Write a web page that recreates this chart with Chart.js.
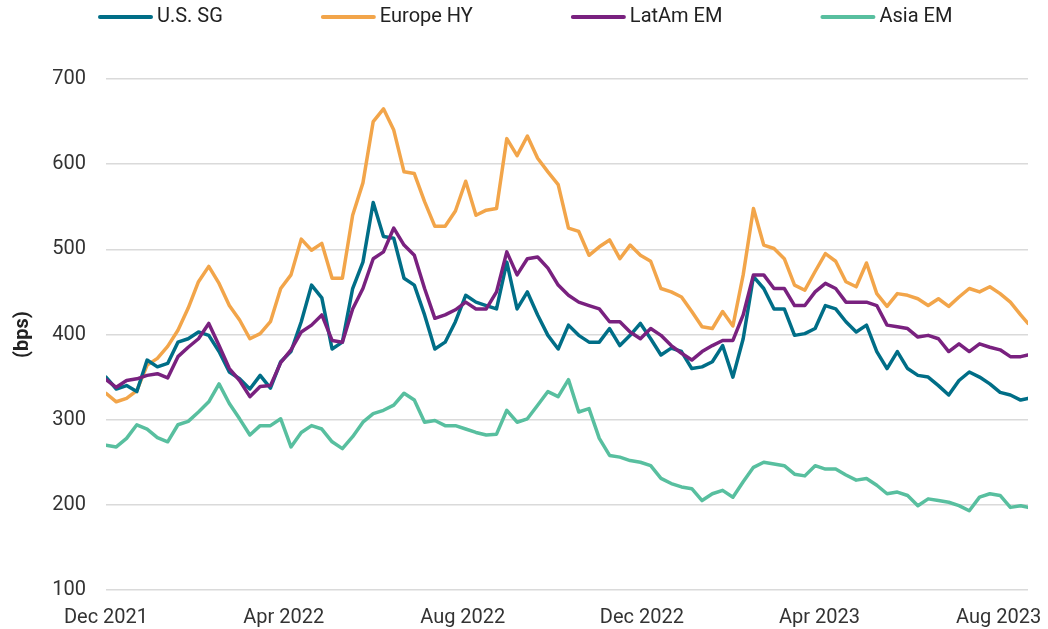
<!DOCTYPE html>
<html>
<head>
<meta charset="utf-8">
<title>Spreads</title>
<script src="https://cdn.jsdelivr.net/npm/chart.js@4.4.0/dist/chart.umd.min.js"></script>
<style>
  body { margin: 0; background: #fff; }
  #wrap { width: 1048px; height: 629px; }
</style>
</head>
<body>
<div id="wrap"><canvas id="myChart" width="1048" height="629"></canvas></div>
<script>
// weekly observations (plus last day shown)
const dates = [
  "2021-12-01", "2021-12-08", "2021-12-15", "2021-12-22", "2021-12-29",
  "2022-01-05", "2022-01-12", "2022-01-19", "2022-01-26",
  "2022-02-02", "2022-02-09", "2022-02-16", "2022-02-23",
  "2022-03-02", "2022-03-09", "2022-03-16", "2022-03-23", "2022-03-30",
  "2022-04-06", "2022-04-13", "2022-04-20", "2022-04-27",
  "2022-05-04", "2022-05-11", "2022-05-18", "2022-05-25",
  "2022-06-01", "2022-06-08", "2022-06-15", "2022-06-22", "2022-06-29",
  "2022-07-06", "2022-07-13", "2022-07-20", "2022-07-27",
  "2022-08-03", "2022-08-10", "2022-08-17", "2022-08-24", "2022-08-31",
  "2022-09-07", "2022-09-14", "2022-09-21", "2022-09-28",
  "2022-10-05", "2022-10-12", "2022-10-19", "2022-10-26",
  "2022-11-02", "2022-11-09", "2022-11-16", "2022-11-23", "2022-11-30",
  "2022-12-07", "2022-12-14", "2022-12-21", "2022-12-28",
  "2023-01-04", "2023-01-11", "2023-01-18", "2023-01-25",
  "2023-02-01", "2023-02-08", "2023-02-15", "2023-02-22",
  "2023-03-01", "2023-03-08", "2023-03-15", "2023-03-22", "2023-03-29",
  "2023-04-05", "2023-04-12", "2023-04-19", "2023-04-26",
  "2023-05-03", "2023-05-10", "2023-05-17", "2023-05-24", "2023-05-31",
  "2023-06-07", "2023-06-14", "2023-06-21", "2023-06-28",
  "2023-07-05", "2023-07-12", "2023-07-19", "2023-07-26",
  "2023-08-02", "2023-08-09", "2023-08-16", "2023-08-21"
];

const usSG = [
  350, 336, 340, 333, 370, 362, 366, 391, 395, 403, 399, 380, 356, 348, 336, 352, 337, 368, 380, 415, 458, 443, 383,
  391, 454, 485, 555, 515, 513, 466, 458, 423, 383, 391, 415, 446, 438, 434, 430, 485, 430, 450, 423, 399, 383, 411,
  399, 391, 391, 407, 387, 399, 413, 395, 376, 384, 380, 360, 362, 368, 387, 350, 395, 468, 454, 430, 430, 399, 401,
  407, 434, 430, 415, 403, 411, 380, 360, 380, 360, 352, 350, 340, 329, 346, 356, 350, 342, 332, 329, 323, 325
];
const europeHY = [
  331, 321, 325, 334, 364, 372, 386, 405, 431, 462, 480, 460, 434, 417, 395, 401, 415, 454, 470, 512, 499, 507, 466,
  466, 540, 578, 650, 665, 640, 591, 589, 556, 527, 527, 545, 580, 540, 546, 548, 630, 610, 633, 607, 591, 576, 525,
  521, 493, 503, 511, 489, 505, 493, 486, 454, 450, 444, 427, 409, 407, 427, 410, 470, 548, 505, 501, 489, 458, 452,
  474, 495, 486, 462, 456, 484, 448, 433, 448, 446, 442, 434, 442, 433, 444, 454, 450, 456, 448, 438, 423, 413
];
const latamEM = [
  347, 338, 346, 348, 352, 354, 349, 374, 385, 395, 413, 387, 360, 346, 327, 339, 340, 367, 382, 403, 411, 423, 393,
  391, 430, 454, 489, 497, 525, 505, 493, 454, 419, 423, 429, 438, 430, 430, 450, 497, 470, 489, 491, 478, 458, 446,
  438, 434, 430, 415, 415, 403, 395, 407, 399, 387, 378, 370, 380, 387, 393, 393, 423, 470, 470, 454, 454, 434, 434,
  450, 460, 454, 438, 438, 438, 434, 411, 409, 407, 397, 399, 395, 380, 389, 380, 389, 385, 382, 374, 374, 376
];
const asiaEM = [
  270, 268, 278, 294, 289, 279, 274, 294, 298, 309, 321, 342, 319, 301, 282, 293, 293, 301, 268, 285, 293, 289, 274,
  266, 280, 297, 307, 311, 317, 331, 323, 297, 299, 293, 293, 289, 285, 282, 283, 311, 297, 301, 317, 333, 327, 347,
  309, 313, 278, 258, 256, 252, 250, 246, 231, 225, 221, 219, 205, 213, 217, 209, 227, 244, 250, 248, 246, 236, 234,
  246, 242, 242, 235, 229, 231, 223, 213, 215, 211, 199, 207, 205, 203, 199, 193, 209, 213, 211, 197, 199, 197
];

const tickDates = ["2021-12-01", "2022-04-01", "2022-08-01", "2022-12-01", "2023-04-01", "2023-08-01"];
const tickLabels = ["Dec 2021", "Apr 2022", "Aug 2022", "Dec 2022", "Apr 2023", "Aug 2023"];
const yTicks = [100, 200, 300, 400, 500, 600, 700];

const DAY = 86400000;
const t0 = Date.parse(dates[0]);
const toDay = (d) => Math.round((Date.parse(d) - t0) / DAY);
const xs = dates.map(toDay);
const tickDays = tickDates.map(toDay);

function pts(values) {
  return values.map((v, i) => ({ x: xs[i], y: v }));
}

// legend drawn above the plot: short thick line + label
const topLegend = {
  id: "topLegend",
  afterDraw(chart) {
    const ctx = chart.ctx;
    ctx.save();
    ctx.font = "20px Roboto";
    ctx.textBaseline = "middle";
    ctx.textAlign = "left";
    let x = 98;
    const y = 17;
    chart.data.datasets.forEach((ds) => {
      ctx.strokeStyle = ds.borderColor;
      ctx.lineWidth = 4;
      ctx.lineCap = "round";
      ctx.beginPath();
      ctx.moveTo(x + 2, y);
      ctx.lineTo(x + 53, y);
      ctx.stroke();
      ctx.fillStyle = "#222";
      ctx.fillText(ds.label, x + 59, y);
      x += 59 + ctx.measureText(ds.label).width + 98;
    });
    ctx.restore();
  },
};

const lineStyle = {
  borderWidth: 3.5,
  pointRadius: 0,
  pointHoverRadius: 0,
  tension: 0,
  fill: false,
  borderJoinStyle: "round",
  borderCapStyle: "round",
};

new Chart(document.getElementById("myChart"), {
  type: "line",
  data: {
    datasets: [
      { label: "U.S. SG", data: pts(usSG), borderColor: "#006e87", backgroundColor: "#006e87", order: 1, ...lineStyle },
      { label: "Europe HY", data: pts(europeHY), borderColor: "#f2a54a", backgroundColor: "#f2a54a", order: 2, ...lineStyle },
      { label: "LatAm EM", data: pts(latamEM), borderColor: "#79217f", backgroundColor: "#79217f", order: 0, ...lineStyle },
      { label: "Asia EM", data: pts(asiaEM), borderColor: "#58bf9f", backgroundColor: "#58bf9f", order: 3, ...lineStyle },
    ],
  },
  options: {
    responsive: false,
    animation: false,
    layout: {
      padding: { top: 79, right: 20, bottom: 0, left: 0 },
    },
    plugins: {
      legend: { display: false },
      tooltip: { enabled: false },
    },
    scales: {
      x: {
        type: "linear",
        min: 0,
        max: xs[xs.length - 1],
        afterBuildTicks: (scale) => {
          scale.ticks = tickDays.map((v) => ({ value: v }));
        },
        afterFit: (scale) => {
          scale.height = 39;
          // labels may hang past the plot edges, don't shrink the plot for them
          scale.paddingLeft = 0;
          scale.paddingRight = 0;
        },
        grid: { display: false },
        border: { display: false },
        ticks: {
          autoSkip: false,
          maxRotation: 0,
          padding: 8,
          color: "#333",
          font: { family: "Roboto", size: 20 },
          callback: (value) => {
            const i = tickDays.indexOf(value);
            return i >= 0 ? tickLabels[i] : "";
          },
        },
      },
      y: {
        min: yTicks[0],
        max: yTicks[yTicks.length - 1],
        afterBuildTicks: (scale) => {
          scale.ticks = yTicks.map((v) => ({ value: v }));
        },
        afterFit: (scale) => {
          scale.width = 106;
        },
        grid: {
          color: "#dadada",
          lineWidth: 1.5,
          drawTicks: false,
        },
        border: { display: false },
        ticks: {
          padding: 20,
          color: "#333",
          font: { family: "Roboto", size: 20 },
        },
        title: {
          display: true,
          text: "(bps)",
          color: "#222",
          font: { family: "Roboto", size: 20, weight: "bold" },
          padding: { top: 11, bottom: 0 },
        },
      },
    },
  },
  plugins: [topLegend],
});
</script>
</body>
</html>
